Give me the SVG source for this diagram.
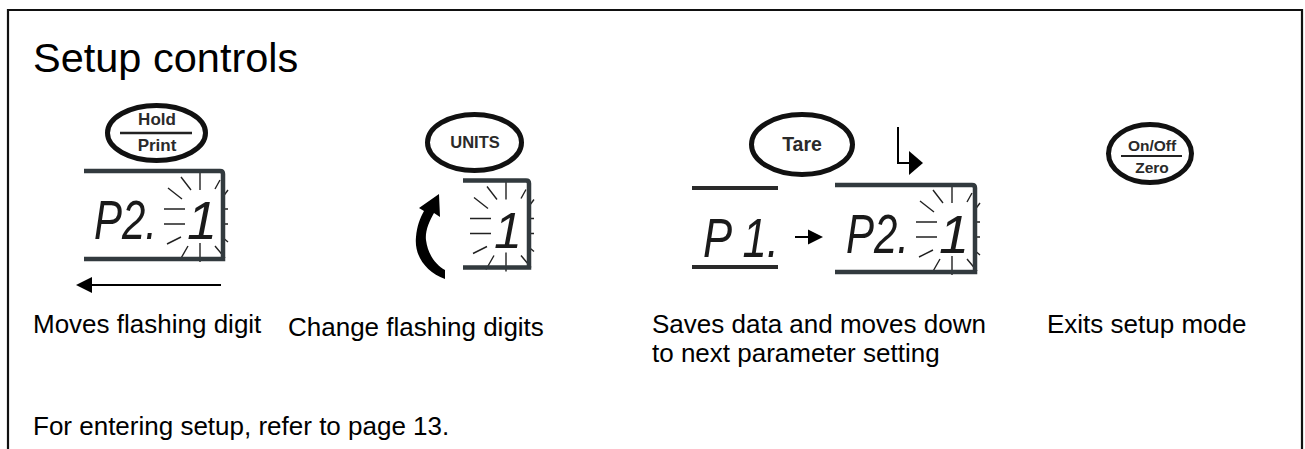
<svg xmlns="http://www.w3.org/2000/svg" xmlns:xlink="http://www.w3.org/1999/xlink" width="1305" height="449" viewBox="0 0 1305 449">
  <style>
    .lbl { font-family: "Liberation Sans", Arial, sans-serif; font-size: 26px; fill: #000; }
    .title { font-family: "Liberation Sans", Arial, sans-serif; font-size: 41.5px; fill: #000; }
    .btn { fill: #fff; stroke: #111; stroke-width: 5; }
    .btxt { font-family: "Liberation Sans", Arial, sans-serif; font-weight: bold; fill: #2a2a2a; text-anchor: middle; }
    .lcd { fill: none; stroke: #323a3e; stroke-width: 4.5; }
    .seg { font-family: "Liberation Sans", Arial, sans-serif; font-style: italic; fill: #1a1a1a; }
    .ray { fill: none; stroke: #222; stroke-width: 1.4; }
    .ln { stroke: #000; stroke-width: 2; fill: none; }
  </style>
  <defs>
    <path id="rays" class="ray" d="M-1,-46 L-1,-28 M-1,25 L-1,44 M-37,-9 L-16,-9 M-37,6 L-16,6 M-33,-30 L-19,-19 M-20,-41 L-10,-28 M-34,26 L-20,19 M-21,42 L-13,28 M14,-29 L19,-38 M21,-20 L27,-28 M21,-9 L27,-9 M21,6 L27,6 M14,28 L24,40 M21,19 L27,24"/>
  </defs>

  <rect width="1305" height="449" fill="#fff"/>
  <path d="M8,449 V10 H1302 V449" fill="none" stroke="#111" stroke-width="2.2"/>

  <text class="title" x="33" y="72">Setup controls</text>

  <!-- Hold/Print -->
  <g id="hold-print">
    <ellipse class="btn" cx="156.5" cy="133" rx="49" ry="27.5"/>
    <text class="btxt" x="157" y="125" font-size="17">Hold</text>
    <line x1="120" y1="133" x2="192" y2="133" stroke="#222" stroke-width="2.5"/>
    <text class="btxt" x="157" y="151" font-size="17">Print</text>
    <g transform="translate(201,218)">
      <use xlink:href="#rays"/>
      <path class="lcd" d="M-117,-47 H19 Q22,-47 22,-44 V41 H-117"/>
      <text class="seg" x="-107" y="21" font-size="56" textLength="63" lengthAdjust="spacingAndGlyphs">P2.</text>
      <text class="seg" x="-14" y="21" font-size="54">1</text>
    </g>
    <line class="ln" x1="90" y1="285" x2="221" y2="285"/>
    <polygon points="76,285 92,277 92,293" fill="#000"/>
    <text class="lbl" x="33" y="333">Moves flashing digit</text>
  </g>

  <!-- UNITS -->
  <g id="units">
    <ellipse class="btn" cx="474.5" cy="142.5" rx="47" ry="28"/>
    <text class="btxt" x="475" y="148" font-size="16.5">UNITS</text>
    <g transform="translate(507,227.5)">
      <use xlink:href="#rays"/>
      <path class="lcd" d="M-44,-47 H19 Q22,-47 22,-44 V40 H-44"/>
      <text class="seg" x="-13" y="20" font-size="50">1</text>
    </g>
    <path d="M445,279 C426,272 414,256 416,237 C417,226 420,218 424,211 L419,208 L439,194 L440,217 L434,213 C429,222 425,231 426,240 C428,255 436,265 445,270 Z" fill="#000"/>
    <text class="lbl" x="288" y="336">Change flashing digits</text>
  </g>

  <!-- Tare -->
  <g id="tare">
    <ellipse class="btn" cx="802" cy="144.5" rx="50.5" ry="30"/>
    <text class="btxt" x="802" y="151" font-size="19.5">Tare</text>
    <path class="ln" d="M898,127 V163 H911"/>
    <polygon points="909,151 923,163 909,175" fill="#000"/>
    <line x1="692" y1="188" x2="778" y2="188" stroke="#2a2a2a" stroke-width="4"/>
    <line x1="692" y1="267" x2="778" y2="267" stroke="#2a2a2a" stroke-width="4"/>
    <text class="seg" x="703" y="257" font-size="56" textLength="76" lengthAdjust="spacingAndGlyphs">P 1.</text>
    <line class="ln" x1="795" y1="237" x2="810" y2="237"/>
    <polygon points="808,229.5 823,237 808,244.5" fill="#000"/>
    <g transform="translate(953,231)">
      <use xlink:href="#rays"/>
      <path class="lcd" d="M-118,-46 H19 Q22,-46 22,-43 V41 H-118"/>
      <text class="seg" x="-107" y="22" font-size="56" textLength="63" lengthAdjust="spacingAndGlyphs">P2.</text>
      <text class="seg" x="-14" y="22" font-size="54">1</text>
    </g>
    <text class="lbl" x="652" y="333">Saves data and moves down</text>
    <text class="lbl" x="652" y="362">to next parameter setting</text>
  </g>

  <!-- On/Off Zero -->
  <g id="onoff-zero">
    <ellipse class="btn" cx="1150" cy="153.5" rx="41.5" ry="29"/>
    <text class="btxt" x="1152" y="151" font-size="15.5">On/Off</text>
    <line x1="1121" y1="156" x2="1182" y2="156" stroke="#222" stroke-width="2"/>
    <text class="btxt" x="1152" y="173" font-size="15.5">Zero</text>
    <text class="lbl" x="1047" y="333">Exits setup mode</text>
  </g>

  <text class="lbl" x="33" y="435">For entering setup, refer to page 13.</text>
</svg>
